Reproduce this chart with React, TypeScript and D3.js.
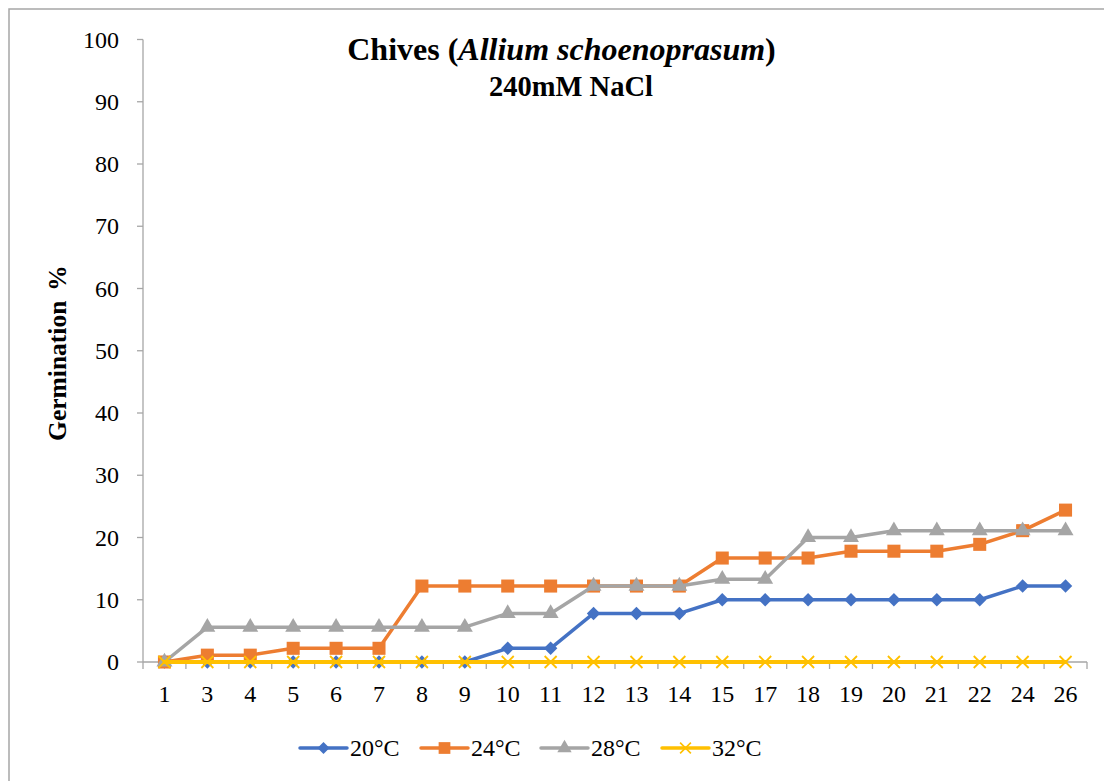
import React from "react";
import * as d3 from "d3";

const days = ["1","3","4","5","6","7","8","9","10","11","12","13","14","15","17","18","19","20","21","22","24","26"];
const s20 = [0,0,0,0,0,0,0,0,2.2,2.2,7.8,7.8,7.8,10,10,10,10,10,10,10,12.2,12.2];
const s24 = [0,1.1,1.1,2.2,2.2,2.2,12.2,12.2,12.2,12.2,12.2,12.2,12.2,16.7,16.7,16.7,17.8,17.8,17.8,18.9,21.1,24.4];
const s28 = [0,5.6,5.6,5.6,5.6,5.6,5.6,5.6,7.8,7.8,12.2,12.2,12.2,13.3,13.3,20,20,21.1,21.1,21.1,21.1,21.1];
const s32 = [0,0,0,0,0,0,0,0,0,0,0,0,0,0,0,0,0,0,0,0,0,0];
const seriesNames = ["20°C","24°C","28°C","32°C"];
const yTicks = [0,10,20,30,40,50,60,70,80,90,100];

const colors = ["#4472C4","#ED7D31","#A5A5A5","#FFC000"];
const FONT = "'Liberation Serif', 'Times New Roman', serif";

function markerPath(kind: number): { d: string; rotate: number; stroke: boolean } {
  if (kind === 0) return { d: d3.symbol(d3.symbolSquare, 90)() as string, rotate: 45, stroke: false };
  if (kind === 1) return { d: d3.symbol(d3.symbolSquare, 170)() as string, rotate: 0, stroke: false };
  if (kind === 2) return { d: d3.symbol(d3.symbolTriangle, 110)() as string, rotate: 0, stroke: false };
  return { d: "M-6,-6L6,6M-6,6L6,-6", rotate: 0, stroke: true };
}

export default function App() {
  const x = d3.scaleBand<string>().domain(days).range([143, 1087]);
  const y = d3.scaleLinear().domain([0, 100]).range([662, 39.5]);
  const cx = (d: string) => (x(d) as number) + x.bandwidth() / 2;
  const data = [s20, s24, s28, s32];
  const line = d3.line<number>().x((_, i) => cx(days[i])).y((v) => y(v));
  const boundaries = days.map((d) => x(d) as number).concat([x.range()[1]]);
  const legendX = [300, 421, 541, 662];

  return (
    <svg width={1104} height={781} style={{ position: "absolute", left: 0, top: 0, background: "#fff" }} fontFamily={FONT}>
      <rect x={9} y={9} width={1110} height={800} fill="#fff" stroke="#A6A6A6" strokeWidth={1.5} />
      {/* title */}
      <text x={561.5} y={59.5} textAnchor="middle" fontSize={32} fontWeight="bold" fill="#000">
        Chives (<tspan fontStyle="italic">Allium schoenoprasum</tspan>)
      </text>
      <text x={571} y={95.5} textAnchor="middle" fontSize={28.5} fontWeight="bold" fill="#000">240mM NaCl</text>
      {/* y axis */}
      <line x1={143} x2={143} y1={y(100)} y2={y(0)} stroke="#A6A6A6" strokeWidth={1.3} />
      {yTicks.map((t) => (
        <g key={t}>
          <line x1={137} x2={143} y1={y(t)} y2={y(t)} stroke="#A6A6A6" strokeWidth={1.3} />
          <text x={119} y={y(t) + 8} textAnchor="end" fontSize={24} fill="#000">{t}</text>
        </g>
      ))}
      <text transform={`translate(66,353) rotate(-90)`} textAnchor="middle" fontSize={25.5} fontWeight="bold" fill="#000">
        Germination<tspan dx={10}>%</tspan>
      </text>
      {/* x axis */}
      <line x1={143} x2={1087} y1={y(0)} y2={y(0)} stroke="#A6A6A6" strokeWidth={1.3} />
      {boundaries.map((b, i) => (
        <line key={i} x1={b} x2={b} y1={y(0)} y2={y(0) + 7} stroke="#A6A6A6" strokeWidth={1.3} />
      ))}
      {days.map((d) => (
        <text key={d} x={cx(d)} y={702} textAnchor="middle" fontSize={24} fill="#000">{d}</text>
      ))}
      {/* series */}
      {data.map((s, k) => {
        const m = markerPath(k);
        return (
          <g key={k}>
            <path d={line(s) as string} fill="none" stroke={colors[k]} strokeWidth={k === 3 ? 4 : 3.5} strokeLinejoin="round" strokeLinecap="round" />
            {s.map((v, i) => (
              <path key={i} d={m.d} transform={`translate(${cx(days[i])},${y(v)}) rotate(${m.rotate})`}
                fill={m.stroke ? "none" : colors[k]} stroke={m.stroke ? colors[k] : "none"} strokeWidth={1.8} />
            ))}
          </g>
        );
      })}
      {/* legend */}
      {seriesNames.map((n, k) => {
        const m = markerPath(k);
        const lx = legendX[k];
        return (
          <g key={n}>
            <line x1={lx} x2={lx + 47} y1={748} y2={748} stroke={colors[k]} strokeWidth={3.5} strokeLinecap="round" />
            <path d={m.d} transform={`translate(${lx + 23.5},748) rotate(${m.rotate}) scale(0.9)`}
              fill={m.stroke ? "none" : colors[k]} stroke={m.stroke ? colors[k] : "none"} strokeWidth={1.8} />
            <text x={lx + 50} y={756} fontSize={24} fill="#000">{n}</text>
          </g>
        );
      })}
    </svg>
  );
}
